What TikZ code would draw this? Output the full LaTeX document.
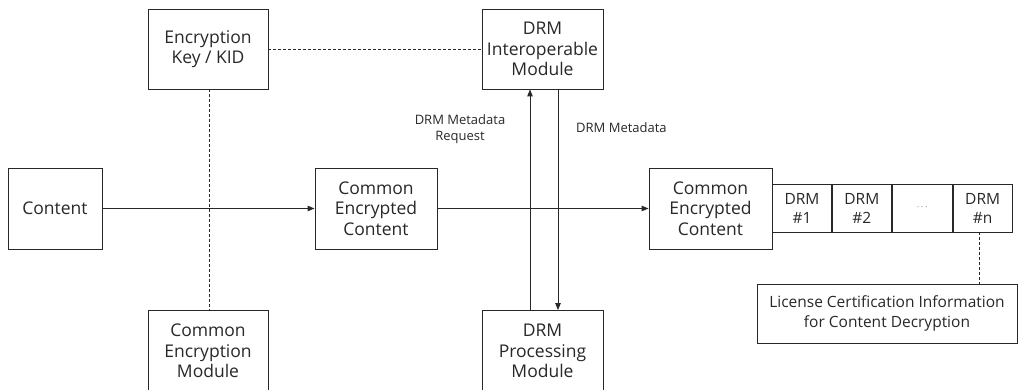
\documentclass[tikz,border=0pt]{standalone}
\usepackage{fontspec}
\setmainfont{Open Sans}
\usetikzlibrary{arrows.meta}
\definecolor{ink}{RGB}{40,40,40}
\tikzset{
  x=1pt, y=-1pt,
  box/.style={draw=ink, line width=0.9pt, fill=white, inner sep=0pt, align=center,
    font=\fontsize{17.5}{20.5}\selectfont, text=ink},
  cell/.style={box, minimum width=59pt, minimum height=48pt,
    font=\fontsize{15.5}{19}\selectfont},
  flow/.style={draw=ink, line width=0.9pt, -{Triangle[length=7pt,width=5.5pt]}},
  link/.style={draw=ink, line width=0.9pt, dash pattern=on 3pt off 2pt},
  lbl/.style={font=\fontsize{13}{16}\selectfont, text=ink, inner sep=0pt, align=center}
}
\begin{document}
\begin{tikzpicture}
\useasboundingbox (0,0) rectangle (1018,390);
\clip (0,0) rectangle (1018,390);

% upper row
\node[box, minimum width=120pt, minimum height=80pt] (key) at (208,49) {Encryption\\Key / KID};
\node[box, minimum width=121pt, minimum height=80pt] (interop) at (542.5,49) {DRM\\Interoperable\\Module};

% middle row
\node[box, minimum width=94pt, minimum height=81pt] (content) at (55,208.5) {Content};
\node[box, minimum width=122pt, minimum height=81pt] (cec) at (376,208.5) {Common\\Encrypted\\Content};
\node[box, minimum width=123pt, minimum height=81pt] (out) at (710.5,208.5) {Common\\Encrypted\\Content};

% DRM header strip
\node[cell, anchor=west] (d1) at (772,208) {DRM\\\#1};
\node[cell, anchor=west] (d2) at (d1.east) {DRM\\\#2};
\node[cell, anchor=west, minimum width=60pt] (dd) at (d2.east) {\raisebox{2pt}{\fontsize{9}{9}\selectfont$\cdots$}};
\node[cell, anchor=west] (dn) at (dd.east) {DRM\\\#n};

\node[box, minimum width=260pt, minimum height=59pt, font=\fontsize{15.5}{20}\selectfont] (lic) at (887,313.5)
  {License Certification Information\\for Content Decryption};

% lower row
\node[box, minimum width=120pt, minimum height=81pt] (cem) at (208,351) {Common\\Encryption\\Module};
\node[box, minimum width=121pt, minimum height=81pt] (proc) at (542.5,351) {DRM\\Processing\\Module};

% content flow
\draw[flow] (content.east) -- (cec.west);
\draw[flow] (cec.east) -- (out.west);

% metadata exchange
\draw[flow] (proc.north -| 530,0) -- (interop.south -| 530,0);
\draw[flow] (interop.south -| 558,0) -- (proc.north -| 558,0);
\node[lbl] (req) at (460,129) {DRM Metadata\\Request};
\node[lbl, anchor=west] (meta) at (576,128) {DRM Metadata};

% dashed associations
\draw[link] (key.east) -- (interop.west);
\draw[link] (key.south -| 209,0) -- (cem.north -| 209,0);
\draw[link] (dn.south -| 979,0) -- (lic.north -| 979,0);
\end{tikzpicture}
\end{document}
